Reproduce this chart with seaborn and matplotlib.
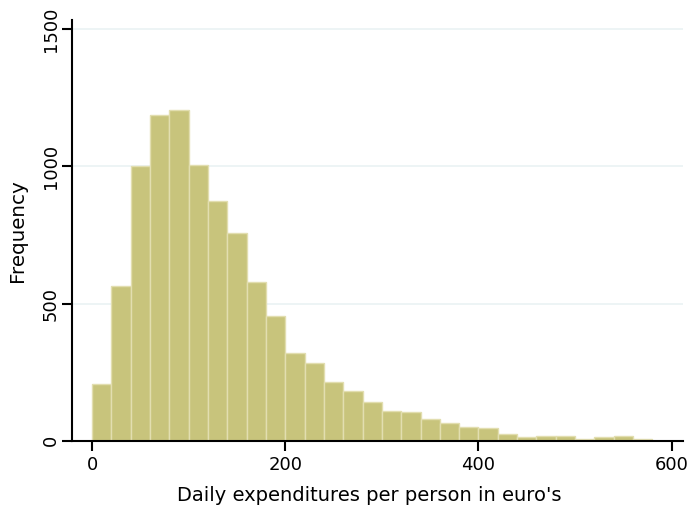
import numpy as np
import pandas as pd
import matplotlib
matplotlib.use("Agg")
import matplotlib.pyplot as plt
import seaborn as sns

# Data (bin width 20 euro)
bin_edges = list(range(0, 600, 20))  # 0..580
counts = [208, 563, 1000, 1188, 1206, 1006, 875, 758, 578, 454,
          318, 285, 214, 182, 142, 110, 104, 78, 65, 51,
          45, 24, 15, 18, 18, 7, 13, 18, 6]
x_ticks = [0, 200, 400, 600]
y_ticks = [0, 500, 1000, 1500]
x_label = "Daily expenditures per person in euro's"
y_label = "Frequency"

sns.set_theme(style="white")
plt.rcParams['font.family'] = ['DejaVu Sans']
plt.rcParams['text.color'] = 'black'
plt.rcParams['axes.labelcolor'] = 'black'
plt.rcParams['xtick.color'] = 'black'
plt.rcParams['ytick.color'] = 'black'

df = pd.DataFrame({"mid": [e + 10 for e in bin_edges[:-1]], "count": counts})

fig = plt.figure(figsize=(6.9, 5.08), dpi=100)
ax = fig.add_axes([72.3 / 690, 1 - 440.7 / 508, 611 / 690, 420.7 / 508])

for yv in y_ticks[1:]:
    ax.axhline(yv, color="#EAF2F3", lw=1.2, zorder=0)

sns.histplot(data=df, x="mid", weights="count", bins=bin_edges, ax=ax,
             color="#C8C47C", edgecolor="#E2DEB0", linewidth=1.0, alpha=1.0,
             zorder=2)

ax.set_xlim(-20.4, 612)
ax.set_ylim(0, 1534)
ax.set_xticks(x_ticks)
ax.set_yticks(y_ticks)
ax.set_xticklabels([str(v) for v in x_ticks], fontsize=13, color="black")
ax.set_yticklabels([str(v) for v in y_ticks], fontsize=13, rotation=90,
                   va="center", color="black")
ax.set_xlabel(x_label, fontsize=14, color="black")
ax.set_ylabel(y_label, fontsize=14.3, color="black")
ax.xaxis.set_label_coords(0.486, -0.108)
ax.yaxis.set_label_coords(-0.074, 0.5)

for s in ["top", "right"]:
    ax.spines[s].set_visible(False)
for s in ["left", "bottom"]:
    ax.spines[s].set_color("black")
    ax.spines[s].set_linewidth(1.5)
ax.tick_params(axis="both", direction="out", length=7, width=1.5, color="black",
               labelcolor="black", left=True, bottom=True, pad=4)
ax.tick_params(axis="y", pad=2)
ax.grid(False)

fig.savefig("out.png", dpi=100, facecolor="white")
